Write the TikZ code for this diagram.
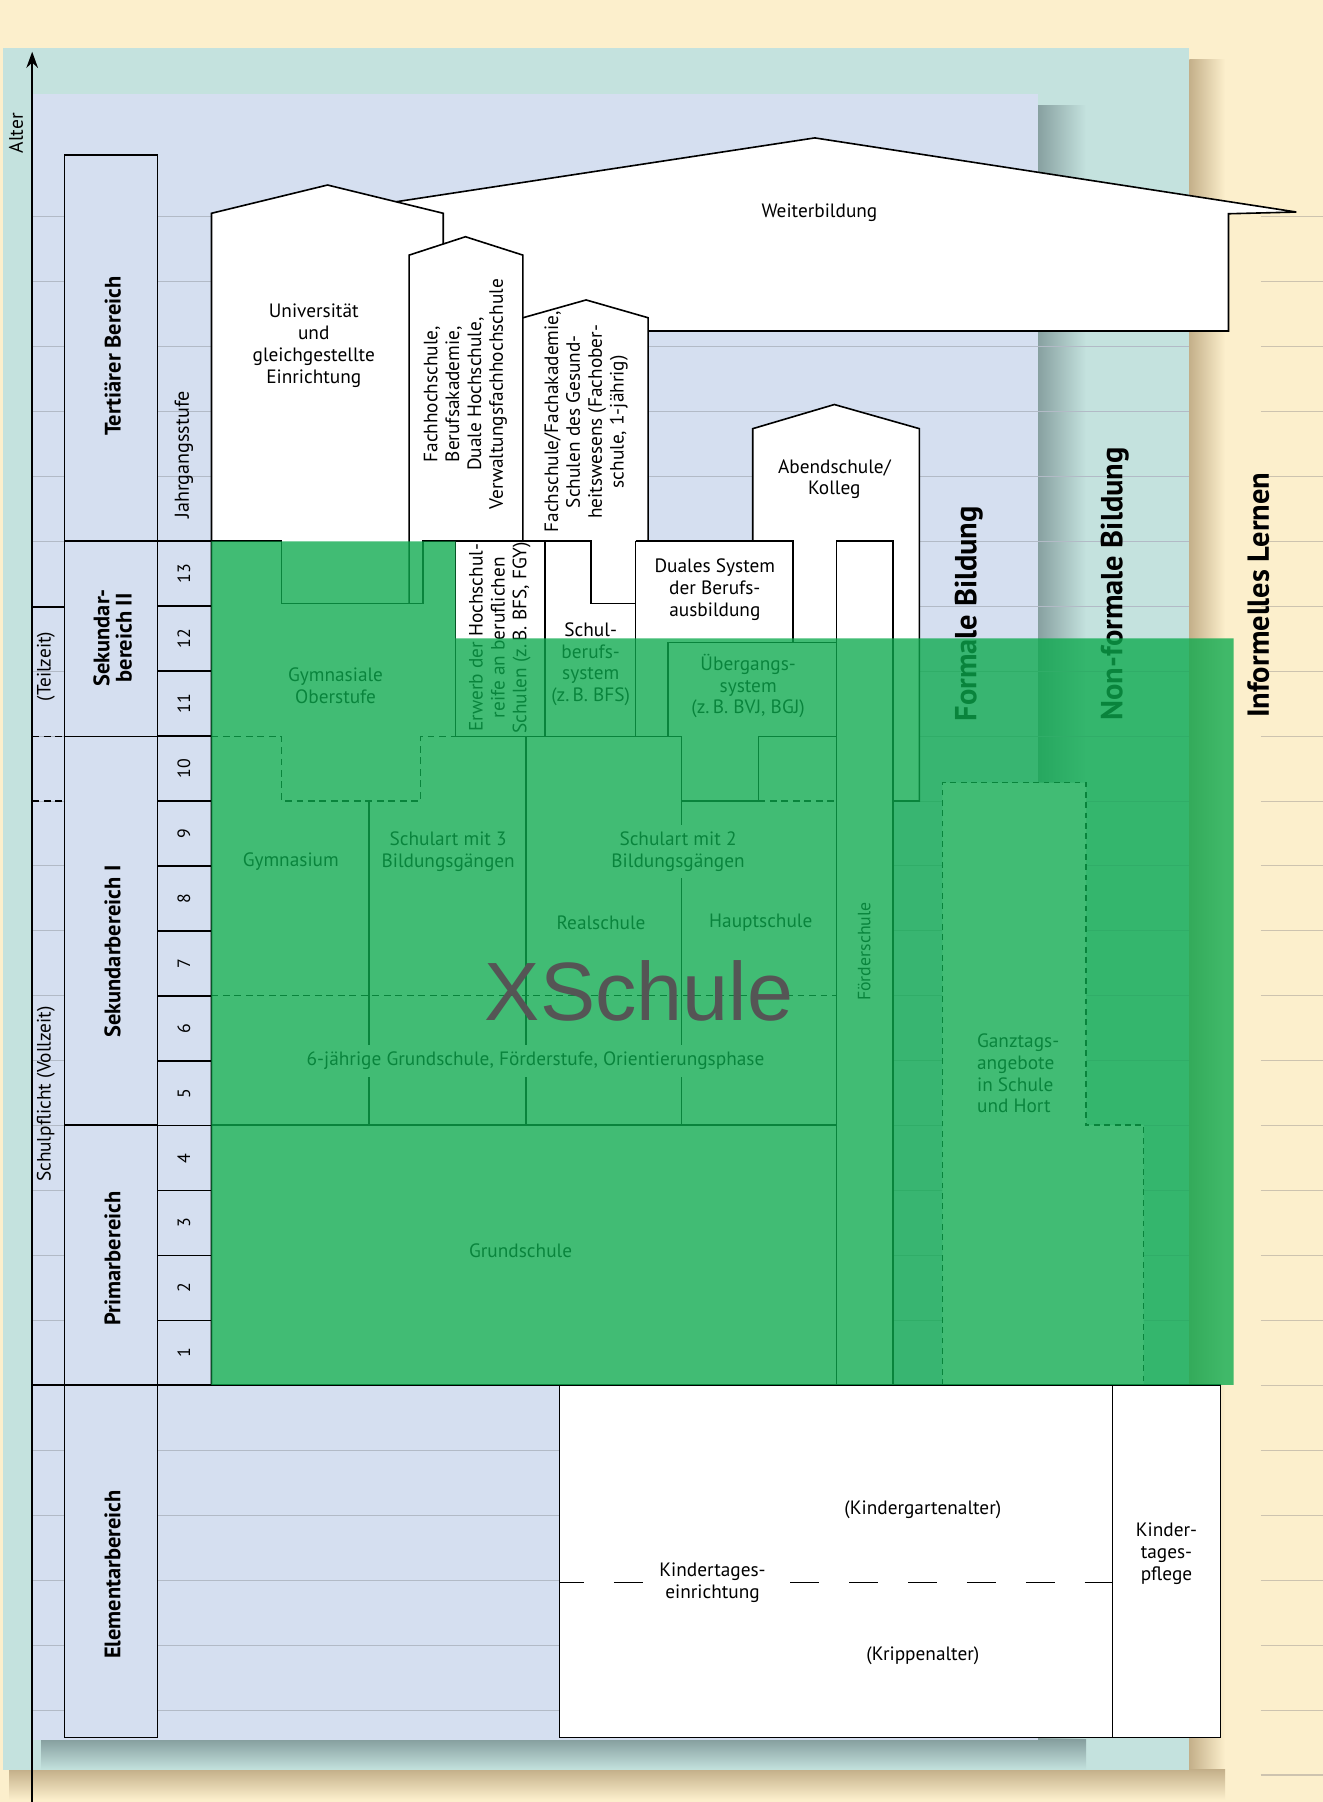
\documentclass[tikz,border=0pt]{standalone}
\usepackage{fontspec}
\setmainfont{PT Sans}
\newfontfamily\wmfont{Liberation Sans}
\usetikzlibrary{arrows.meta}
\definecolor{cream}{RGB}{252,239,204}
\definecolor{tealbg}{RGB}{196,226,222}
\definecolor{lav}{RGB}{213,223,240}
\definecolor{ovgreen}{RGB}{12,170,78}
\definecolor{shteal}{RGB}{135,160,160}
\definecolor{shbrown}{RGB}{196,176,138}
\definecolor{gridc}{RGB}{178,186,198}
\definecolor{gridcr}{RGB}{205,195,175}
\definecolor{wmgray}{RGB}{85,85,85}
\begin{document}
\begin{tikzpicture}[x=1pt,y=-1pt,
  ln/.style={black, line width=1.4pt},
  dsh/.style={black, line width=1.3pt, dash pattern=on 6pt off 4pt},
  gridl/.style={gridc, line width=0.9pt},
  gridlc/.style={gridcr, line width=0.9pt},
  txt/.style={font=\fontsize{16.8}{19}\selectfont, align=center, inner sep=1pt},
  rtxt/.style={txt, rotate=90},
  cat/.style={font=\bfseries\fontsize{19.5}{19.5}\selectfont, align=center, rotate=90, inner sep=0pt},
  big/.style={font=\bfseries\fontsize{26.5}{28}\selectfont, rotate=90, inner sep=0pt},
  num/.style={font=\fontsize{15.5}{16}\selectfont, rotate=90, inner sep=0pt}]
\useasboundingbox (0,0) rectangle (1151,1568);
% backgrounds
\fill[cream] (0,0) rectangle (1151,1568);
\shade[left color=shbrown, right color=cream] (1035,52) rectangle (1066,1566);
\shade[top color=shbrown, bottom color=cream] (8,1540) rectangle (1066,1566);
\fill[tealbg] (3,42) rectangle (1035,1540);
\shade[left color=shteal, right color=tealbg] (903,92) rectangle (945,1540);
\shade[top color=shteal, bottom color=tealbg] (36,1514) rectangle (945,1540);
\fill[lav] (29,82) rectangle (903,1514);
% grid lines
\foreach \k in {0,...,23}{\pgfmathsetmacro\gy{188.5+56.5*\k}\draw[gridl] (29,\gy) -- (1035,\gy);}
\foreach \k in {0,...,24}{\pgfmathsetmacro\gy{188.5+56.5*\k}\draw[gridlc] (1097,\gy) -- (1151,\gy);}
% left column
\draw[ln] (28,528) -- (56,528);
\draw[dsh] (28,641) -- (56,641);
\draw[dsh] (28,697) -- (56,697);
\draw[ln] (28,1205) -- (487,1205);
% category boxes
\draw[ln, fill=lav] (56,135) rectangle (137,471);
\draw[ln, fill=lav] (56,471) rectangle (137,641);
\draw[ln, fill=lav] (56,641) rectangle (137,979);
\draw[ln, fill=lav] (56,979) rectangle (137,1205);
\draw[ln, fill=lav] (56,1205) rectangle (137,1512);
\foreach \i in {0,...,13}{\pgfmathsetmacro\jy{471+56.5*\i}\draw[ln] (137,\jy) -- (184,\jy);}
% Weiterbildung
\filldraw[ln, fill=white] (330,177.8) -- (709,120) -- (1128,184.5) -- (1069,186) -- (1069,288) -- (370,288) -- (370,200) -- cycle;
% school region fill
\fill[white] (184,471) rectangle (728,1205);
% Universitaet
\fill[white] (184,471) -- (184,185.6) -- (285,161) -- (385.7,185.6) -- (385.7,471) -- cycle;
\draw[ln] (184,1205) -- (184,185.6) -- (285,161) -- (385.7,185.6) -- (385.7,230);
% Fachhochschule
\fill[white] (356,525) -- (356,222) -- (405,206) -- (455,222) -- (455,471) -- cycle;
\draw[ln] (356,525) -- (356,222) -- (405,206) -- (455,222) -- (455,471);
% Fachschule
\fill[white] (455,471) -- (455,276.5) -- (510,261) -- (564,276.5) -- (564,471) -- cycle;
\draw[ln] (455,471) -- (455,276.5) -- (510,261) -- (564,276.5) -- (564,471);
% Abendschule
\fill[white] (655,471) -- (655,373) -- (726,352) -- (800,373) -- (800,697) -- (777,697) -- (777,471) -- cycle;
\draw[ln] (655,471) -- (655,373) -- (726,352) -- (800,373) -- (800,697) -- (777,697);
% Foerderschule
\filldraw[ln, fill=white] (728,471) rectangle (777,1205);
% Ganztags
\fill[white] (820,681) -- (945,681) -- (945,979) -- (995,979) -- (995,1205) -- (820,1205) -- cycle;
\draw[dsh, dash pattern=on 5pt off 4pt] (820,1205) -- (820,681) -- (945,681) -- (945,979) -- (995,979) -- (995,1205);
% school lines
\draw[ln] (184,471) -- (245,471) -- (245,525) -- (368,525) -- (368,471) -- (514,471) -- (514,525) -- (553,525);
\draw[ln] (396.5,471) -- (396.5,641);
\draw[ln] (474,471) -- (474,641);
\draw[ln] (553,471) -- (553,641);
\draw[ln] (553,471) -- (690,471) -- (690,559);
\draw[ln] (581.5,641) -- (581.5,559) -- (728,559);
\draw[ln] (396.5,641) -- (593,641) -- (593,697) -- (660,697) -- (660,641) -- (728,641);
\draw[dsh] (660,697) -- (728,697);
\draw[dsh] (184,641) -- (245,641) -- (245,697) -- (366,697) -- (366,641) -- (396.5,641);
\draw[ln] (321,697) -- (321,979);
\draw[ln] (457.6,641) -- (457.6,979);
\draw[ln] (593,697) -- (593,979);
\draw[dsh] (184,866) -- (728,866);
\draw[ln] (184,979) -- (728,979);
\draw[ln] (184,1205) -- (728,1205);
% Elementar boxes
\filldraw[ln, fill=white] (487,1205) rectangle (968,1512);
\filldraw[ln, fill=white] (968,1205) rectangle (1062,1512);
\draw[ln, dash pattern=on 25pt off 26.2pt, dash phase=4pt] (487,1377) -- (968,1377);
% axis
\coordinate (axb) at (28,1568);
\coordinate (axt) at (28,45);
\draw[line width=2.2pt, -{Stealth[length=14pt,width=10pt]}] (axb) -- (axt);
% texts
\node[rtxt, font=\fontsize{17}{18}\selectfont] (alter) at (14,116) {Alter};
\node[rtxt] (teil) at (40,580) {(Teilzeit)};
\node[rtxt] (voll) at (40,952) {Schulpflicht (Vollzeit)};
\node[cat] (tert) at (98,310) {Tertiärer Bereich};
\node[cat] (sek2) at (98,555) {Sekundar-\\bereich II};
\node[cat] (sek1) at (98,828) {Sekundarbereich I};
\node[cat] (prim) at (98,1095) {Primarbereich};
\node[cat] (elem) at (98,1370) {Elementarbereich};
\node[rtxt, font=\fontsize{17.5}{19}\selectfont] (jg) at (160,396) {Jahrgangsstufe};
\foreach \n [count=\i from 0] in {13,12,...,1}{\pgfmathsetmacro\yc{499.25+56.5*\i}\node[num] (n\n) at (160,\yc) {\n};}
\node[txt] (uni) at (273,301) {Universität\\und\\gleichgestellte\\Einrichtung};
\node[rtxt] (fh) at (405,343) {Fachhochschule,\\Berufsakademie,\\Duale Hochschule,\\Verwaltungsfachhochschule};
\node[rtxt] (fs) at (510,367) {Fachschule/Fachakademie,\\Schulen des Gesund-\\heitswesens (Fachober-\\schule, 1-jährig)};
\node[txt] (wb) at (713,185) {Weiterbildung};
\node[txt] (abend) at (726,417) {Abendschule/\\Kolleg};
\node[txt] (dual) at (622,513) {Duales System\\der Berufs-\\ausbildung};
\node[rtxt] (erwerb) at (435,555) {Erwerb der Hochschul-\\reife an beruflichen\\Schulen (z.\,B. BFS, FGY)};
\node[txt] (sbs) at (514,578) {Schul-\\berufs-\\system\\(z.\,B. BFS)};
\node[txt] (ueb) at (651,597) {Übergangs-\\system\\(z.\,B. BVJ, BGJ)};
\node[txt] (gymo) at (292,597) {Gymnasiale\\Oberstufe};
\node[txt] (gym) at (253,750) {Gymnasium};
\node[txt] (sa3) at (390,741) {Schulart mit 3\\Bildungsgängen};
\node[txt, fill=white, inner ysep=6pt] (sa2) at (590,741) {Schulart mit 2\\Bildungsgängen};
\node[txt] (real) at (523,803) {Realschule};
\node[txt] (haupt) at (662,803) {Hauptschule};
\node[txt, fill=white, inner ysep=6pt] (sechs) at (466,923) {6-jährige Grundschule, Förderstufe, Orientierungsphase};
\node[txt] (grund) at (453,1088) {Grundschule};
\node[rtxt, font=\fontsize{15.5}{17}\selectfont] (foerd) at (752,828) {Förderschule};
\node[txt, align=left, anchor=west] (ganz) at (849,934) {Ganztags-\\angebote\\in Schule\\und Hort};
\node[big] (formal) at (843,534) {Formale Bildung};
\node[big] (nonformal) at (970,508) {Non-formale Bildung};
\node[big] (informell) at (1095,518) {Informelles Lernen};
\node[txt] (kiga) at (803,1314) {(Kindergartenalter)};
\node[txt, fill=white, inner xsep=6pt] (kita) at (620,1377) {Kindertages-\\einrichtung};
\node[txt] (krippe) at (803,1441) {(Krippenalter)};
\node[txt] (pflege) at (1015,1352) {Kinder-\\tages-\\pflege};
% green overlay
\fill[ovgreen, opacity=0.78] (184,471) -- (396.5,471) -- (396.5,555.5) -- (1073.5,555.5) -- (1073.5,1205) -- (184,1205) -- cycle;
\node[font=\wmfont\fontsize{72}{80}\selectfont, text=wmgray, inner sep=0pt] (xs) at (556,862) {XSchule};
\end{tikzpicture}
\end{document}
